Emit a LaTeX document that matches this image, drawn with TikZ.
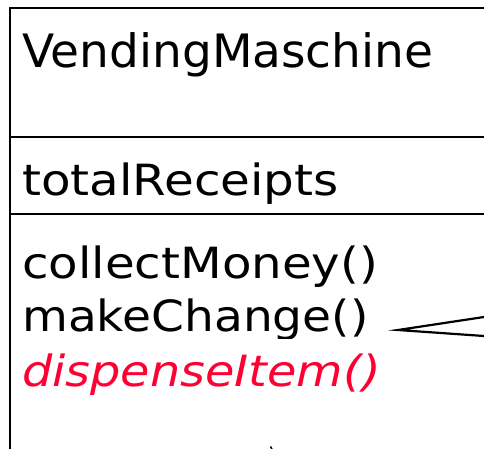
\documentclass[tikz,border=0pt]{standalone}
\usepackage{fontspec}
\setmainfont{DejaVu Sans}
\definecolor{opred}{HTML}{FF0033}
\newcommand{\wide}[2]{\scalebox{#1}[1]{#2}}
\begin{document}
\begin{tikzpicture}[x=1pt,y=-1pt,
  boxline/.style={line width=1.2pt,black},
  classname/.style={anchor=base west,inner sep=0pt,font=\fontsize{46}{50}\selectfont},
  member/.style={anchor=base west,inner sep=0pt,font=\fontsize{43}{48}\selectfont},
  tipline/.style={line width=2.2pt,black}]
\useasboundingbox (0,0) rectangle (484,449);
\coordinate (tl) at (10,8);
\coordinate (tr) at (484,8);
\coordinate (bl) at (10,449);
\coordinate (s1l) at (10,137);
\coordinate (s1r) at (484,137);
\coordinate (s2l) at (10,214);
\coordinate (s2r) at (484,214);
\draw[boxline] (tr) -- (tl) -- (bl);
\draw[boxline] (s1l) -- (s1r);
\draw[boxline] (s2l) -- (s2r);
\node[classname] (cn) at (22,68) {\wide{1.022}{VendingMaschine}};
\node[member] (attr) at (22,195) {\wide{1.125}{totalReceipts}};
\node[member] (m1) at (22,278) {\wide{1.123}{collectMoney()}};
\begin{scope}
\clip (0,0) rectangle (484,338);
\node[member] (m2) at (22,331) {\wide{1.095}{makeChange()}};
\end{scope}
\node[member,text=opred,font=\fontsize{43}{48}\selectfont\itshape] (m3) at (22,386) {\wide{1.11}{dispenseItem()}};
\coordinate (tip) at (398,330);
\coordinate (ua) at (484,317);
\coordinate (la) at (484,336);
\draw[tipline] (ua) -- (tip) -- (la);
\coordinate (dotA) at (270.5,446.5);
\coordinate (dotB) at (272,449);
\draw[line width=1.5pt] (dotA) -- (dotB);
\end{tikzpicture}
\end{document}
